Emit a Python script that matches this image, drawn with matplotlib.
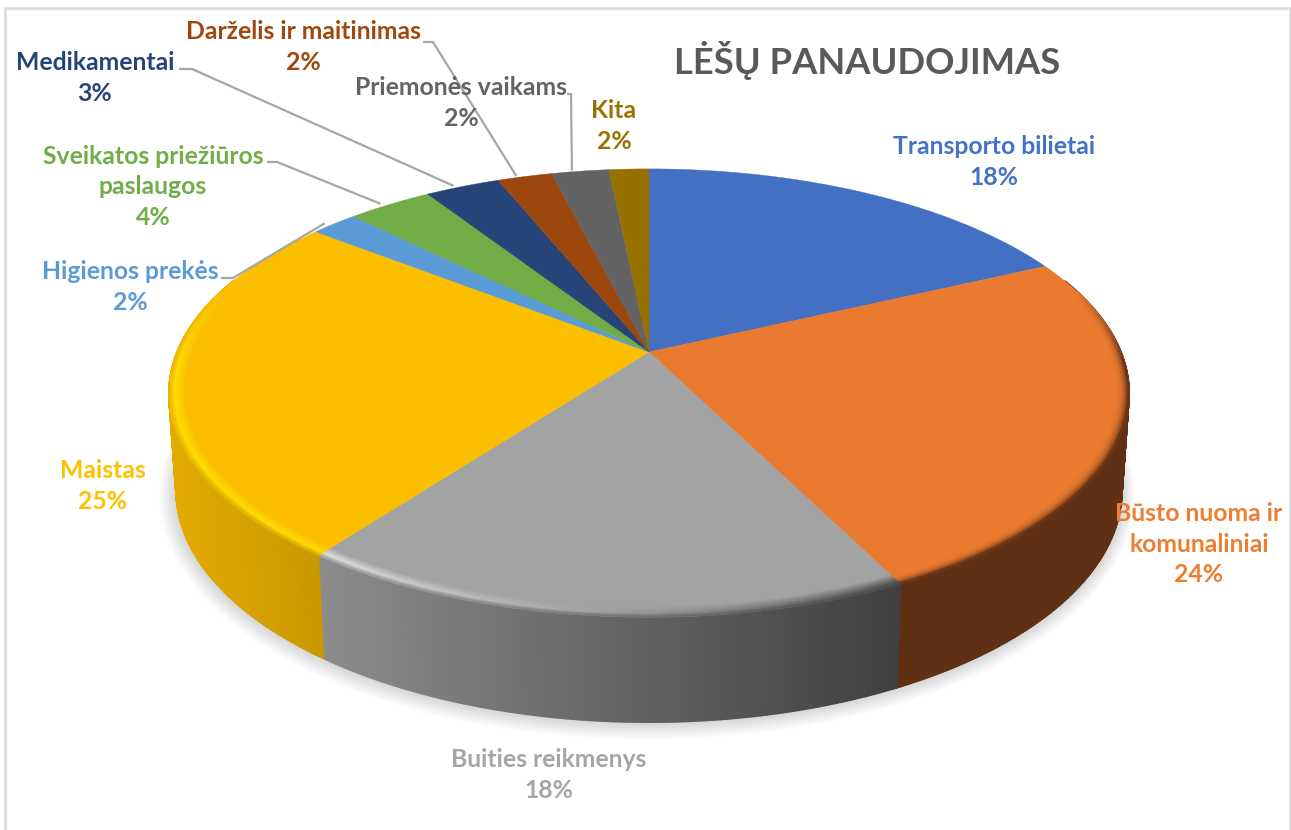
import numpy as np
import matplotlib
matplotlib.use('Agg')
import matplotlib.pyplot as plt
from matplotlib.collections import PolyCollection
from matplotlib.colors import to_rgb

plt.rcParams['font.family'] = ['Lato', 'Noto Sans', 'DejaVu Sans']

title = 'LĖŠŲ PANAUDOJIMAS'
categories = ['Transporto bilietai', 'Būsto nuoma ir\nkomunaliniai', 'Buities reikmenys',
              'Maistas', 'Higienos prekės', 'Sveikatos priežiūros\npaslaugos',
              'Medikamentai', 'Darželis ir maitinimas', 'Priemonės vaikams', 'Kita']
shares = [18.0, 24.65, 17.55, 25.4, 1.9, 3.4, 3.0, 2.2, 2.3, 1.6]
percent_labels = ['18%', '24%', '18%', '25%', '2%', '4%', '3%', '2%', '2%', '2%']
colors = ['#4472c4', '#ed7d31', '#a5a5a5', '#ffc000', '#5b9bd5',
          '#70ad47', '#264478', '#9e480e', '#636363', '#997300']
top_colors = ['#4370c2', '#ea7a30', '#a3a3a3', '#fbbf00', '#5b9bd5',
              '#70ad47', '#264478', '#9b470e', '#636363', '#977100']
label_x = [994, 1199, 549, 103, 130, 153, 95, 303, 461, 614]
label_y = [162, 544, 775, 486, 287, 187, 78, 47, 103, 126]
# categories with a leader line: (index, stub start x, stub end x, stub y)
leaders = [(4, 221, 233, 278), (5, 267, 277, 162), (6, 179, 192, 69),
           (7, 423, 433, 42), (8, 567, 571, 94)]

# pie geometry in pixels, tilted disc with perspective
cx, cy = 649, 352
a, b, k = 472, 216.6, 0.183
depth_dy, depth_sx, depth_sy = 95.5, 0.985, 1.036


def project(angle, r=1.0):
    u = r * np.sin(angle)
    v = r * np.cos(angle)
    d = 1 + k * v
    return cx + a * u / d, cy - b * v / d


def project_low(angle):
    x, y = project(angle)
    return cx + (x - cx) * depth_sx, cy + (y - cy) * depth_sy + depth_dy


def mix(c1, c2, t):
    c1, c2 = np.array(to_rgb(c1)), np.array(to_rgb(c2))
    return tuple(c1 + (c2 - c1) * float(np.clip(t, 0, 1)))


def side_color(i, x):
    if i == 2:
        return mix('#8c8c8c', '#3f3f3f', (x - 320) / 585)
    if i == 3:
        return mix('#e3ab00', '#c99700', (x - 172) / 150)
    if i == 1:
        return '#5f3013'
    return top_colors[i]


def rim_color(i, x):
    if i == 2:
        return mix('#e0e0e0', '#5c5c5c', (x - 320) / 585)
    if i == 3:
        return '#ffdc00'
    return top_colors[i]


fig = plt.figure(figsize=(12.91, 8.30), dpi=100)
ax = fig.add_axes([0, 0, 1, 1])
ax.set_xlim(0, 1291)
ax.set_ylim(830, 0)
ax.axis('off')

# frame
ax.plot([5, 5, 1290, 1290], [830, 8, 8, 830], color='#dcdcdc', lw=2, zorder=1)

edges = np.cumsum([0] + shares) / sum(shares) * 2 * np.pi

# soft shadow under the disc
t = np.linspace(0, 2 * np.pi, 300)
lx, ly = project_low(t)
for grow in range(1, 15):
    sx = cx + (lx - cx) * (1 + grow * 0.0022) - grow * 0.15
    sy = cy + 20 + (ly - cy - 20) * (1 + grow * 0.0035)
    ax.fill(sx, sy, color='black', alpha=0.011, lw=0, zorder=2)

# side wall
side_polys, side_cols = [], []
for i in range(len(shares)):
    ang = np.arange(edges[i], edges[i + 1] + 0.006, 0.006)
    for a0, a1 in zip(ang[:-1], ang[1:]):
        if np.cos(a0) > 0.35:
            continue
        x0, y0 = project(a0)
        x1, y1 = project(a1)
        x2, y2 = project_low(a1)
        x3, y3 = project_low(a0)
        side_polys.append([(x0, y0), (x1, y1), (x2, y2), (x3, y3)])
        side_cols.append(side_color(i, x0))
ax.add_collection(PolyCollection(side_polys, facecolors=side_cols, edgecolors=side_cols,
                                 linewidths=1.2, zorder=3))

# top slices
for i in range(len(shares)):
    ang = np.linspace(edges[i], edges[i + 1], 120)
    xs, ys = project(ang)
    ax.fill(np.r_[cx, xs], np.r_[cy, ys], color=top_colors[i], lw=0.3, zorder=4)

# bevel along the front edge
bevel_polys, bevel_cols = [], []
radii = np.linspace(0.968, 1.0, 11)
for i in range(len(shares)):
    ang = np.arange(edges[i], edges[i + 1] + 0.012, 0.012)
    for a0, a1 in zip(ang[:-1], ang[1:]):
        weight = np.clip((0.3 - np.cos(a0)) / 0.35, 0, 1)
        if weight == 0:
            continue
        for r0, r1 in zip(radii[:-1], radii[1:]):
            x0, y0 = project(a0, r0)
            x1, y1 = project(a1, r0)
            x2, y2 = project(a1, r1)
            x3, y3 = project(a0, r1)
            s = (0.5 * (r0 + r1) - 0.968) / 0.032
            xm = project(a0)[0]
            if i == 1:
                c = mix(top_colors[i], '#5f3013', s ** 3 * 1.1)
            elif s < 0.65:
                c = mix(top_colors[i], rim_color(i, xm), s / 0.65)
            else:
                c = mix(rim_color(i, xm), side_color(i, xm), (s - 0.65) / 0.35 * 0.8)
            c = mix(top_colors[i], c, weight)
            bevel_polys.append([(x0, y0), (x1, y1), (x2, y2), (x3, y3)])
            bevel_cols.append(c)
ax.add_collection(PolyCollection(bevel_polys, facecolors=bevel_cols, edgecolors=bevel_cols,
                                 linewidths=0.6, zorder=5))

# leader lines go from the label to the middle of the slice
for i, x0, x1, y0 in leaders:
    x2, y2 = project(0.5 * (edges[i] + edges[i + 1]), 1.005)
    ax.plot([x0, x1, x2 - 8], [y0, y0, y2], color='#a6a6a6', lw=1.6, zorder=6,
            solid_joinstyle='miter', solid_capstyle='butt')

for name, pct, col, x, y in zip(categories, percent_labels, colors, label_x, label_y):
    ax.text(x, y, name + '\n' + pct, color=col, fontsize=17.8, fontweight='bold', ha='center',
            va='center', multialignment='center', linespacing=1.37, zorder=7)

ax.text(867, 60, title, color='#595959', fontsize=26.2, fontweight='bold',
        ha='center', va='center', zorder=7)

fig.savefig('out.png', dpi=100, facecolor='white')
